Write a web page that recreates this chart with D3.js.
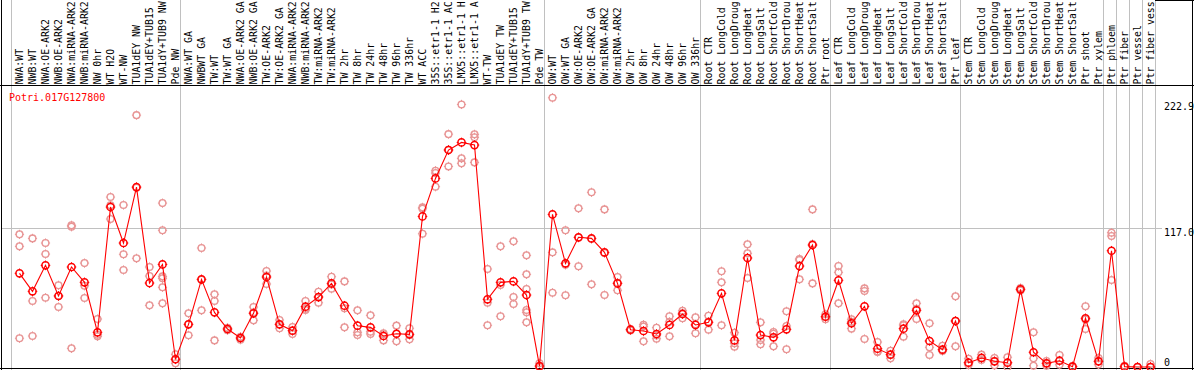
<!DOCTYPE html>
<html>
<head>
<meta charset="utf-8">
<script src="https://cdn.jsdelivr.net/npm/d3@7"></script>
<style>
  html, body { margin: 0; padding: 0; background: #fff; }
  svg { display: block; }
  text { font-family: "DejaVu Sans Mono", monospace; font-size: 10px; }
</style>
</head>
<body>
<svg id="chart"></svg>
<script>
const geneName = "Potri.017G127800";

// sample names as far as they show in the label strip
const samples = [
  "NWA:WT", "NWB:WT", "NWA:OE-ARK2", "NWB:OE-ARK2", "NWA:miRNA-ARK2", "NWB:miRNA-ARK2",
  "NW 0hr", "WT H2O", "WT-NW", "TUA1dEY NW", "TUA1dEY+TUB15", "TUA1dY+TUB9 NW", "Pde NW",
  "NWA:WT GA", "NWBWT GA", "TW:WT", "TW:WT GA", "NWA:OE-ARK2 GA", "NWB:OE-ARK2 GA",
  "TW:OE-ARK2", "TW:OE-ARK2 GA", "NWA:miRNA-ARK2", "NWB:miRNA-ARK2", "TW:miRNA-ARK2",
  "TW:miRNA-ARK2", "TW 2hr", "TW 8hr", "TW 24hr", "TW 48hr", "TW 96hr", "TW 336hr",
  "WT ACC", "35S::etr1-1 H2", "35S::etr1-1 AC", "LMX5::etr1-1 H", "LMX5::etr1-1 A",
  "WT-TW", "TUA1dEY TW", "TUA1dEY+TUB15", "TUA1dY+TUB9 TW", "Pde TW",
  "OW:WT", "OW:WT GA", "OW:OE-ARK2", "OW:OE-ARK2 GA", "OW:miRNA-ARK2", "OW:miRNA-ARK2",
  "OW 2hr", "OW 8hr", "OW 24hr", "OW 48hr", "OW 96hr", "OW 336hr",
  "Root CTR", "Root LongCold", "Root LongDroug", "Root LongHeat", "Root LongSalt",
  "Root ShortCold", "Root ShortDrou", "Root ShortHeat", "Root ShortSalt", "Ptr root",
  "Leaf CTR", "Leaf LongCold", "Leaf LongDroug", "Leaf LongHeat", "Leaf LongSalt",
  "Leaf ShortCold", "Leaf ShortDrou", "Leaf ShortHeat", "Leaf ShortSalt", "Ptr leaf",
  "Stem CTR", "Stem LongCold", "Stem LongDroug", "Stem LongHeat", "Stem LongSalt",
  "Stem ShortCold", "Stem ShortDrou", "Stem ShortHeat", "Stem ShortSalt", "Ptr shoot",
  "Ptr xylem", "Ptr phloem", "Ptr fiber", "Ptr vessel", "Ptr fiber vess"
];

// last sample index of each block (grey separators)
const groupEnds = [12, 40, 52, 62, 72, 83, 84, 85, 86, 87];

const means = [
  78.9, 63.7, 85.6, 59.8, 84.2, 71.3, 29.2, 134.7, 104.4, 151.5, 70.7, 86.4, 6.5,
  35.9, 73.8, 46.0, 32.0, 24.4, 45.2, 75.8, 35.9, 30.6, 50.8, 58.9, 70.4, 51.6, 34.8,
  33.4, 26.1, 28.0, 27.5, 126.8, 158.8, 182.7, 189.1, 186.9, 57.0, 71.3, 72.1, 60.6, 0.8,
  128.5, 87.3, 109.2, 108.3, 96.5, 70.4, 31.4, 30.3, 27.8, 35.4, 44.6, 35.4,
  37.6, 62.0, 22.4, 91.8, 26.9, 25.0, 31.7, 85.0, 102.7, 42.3,
  73.0, 36.8, 51.1, 15.4, 10.4, 32.3, 47.7, 21.9, 14.6, 38.7,
  3.6, 7.6, 4.8, 3.6, 65.4, 12.4, 3.1, 5.3, 0.3, 41.0, 4.8,
  97.9, 0.3, 0.0, 0.0
];

const replicates = [
  [111.7, 101.6, 24.2], [108.3, 55.6, 26.1], [104.4, 95.1, 58.3], [68.8, 60.0, 50.5],
  [119.3, 118.1, 15.7], [87.5, 68.4, 58.1], [40.4, 27.2, 25.8], [143.1, 136.1, 124.6],
  [136.4, 94.9, 81.7], [212.1, 150.9, 91.5], [84.2, 76.6, 51.9],
  [138.0, 115.1, 76.3, 74.7, 67.1, 53.6], [10.7, 6.5, 3.1],
  [45.2, 36.0, 26.7], [100.2, 73.5, 47.7], [61.2, 55.6, 22.4], [33.0, 32.0, 31.0],
  [25.5, 24.4, 23.0], [50.5, 46.0, 39.3], [80.8, 77.0, 69.9], [39.6, 36.0, 32.6],
  [33.7, 30.5, 27.8], [55.6, 49.0, 48.0], [63.4, 59.0, 54.1], [76.0, 69.5, 65.9],
  [72.1, 49.4, 33.4], [47.7, 29.2, 26.9], [43.5, 29.7, 27.8], [28.4, 27.5, 22.4],
  [34.8, 28.0, 21.6], [32.6, 27.0, 23.3], [134.4, 133.3, 112.2], [165.3, 163.3, 151.8],
  [196.1, 183.0, 168.9], [221.1, 175.7, 171.5], [195.9, 193.4, 172.3], [82.5, 54.1, 35.1],
  [101.6, 69.0, 42.7], [105.8, 58.9, 53.0], [94.0, 78.0, 65.7, 48.0, 46.0, 37.6],
  [3.1, 0.5, 0.0],
  [226.7, 96.5, 62.5], [115.1, 86.0, 60.4], [133.6, 109.0, 84.8], [147.1, 108.0, 69.6],
  [132.7, 96.0, 60.6], [75.8, 71.0, 64.6], [32.0, 31.4, 30.8], [35.6, 34.0, 21.6],
  [33.1, 26.5, 23.8], [42.7, 38.0, 25.8], [47.4, 45.4, 41.0], [41.8, 36.0, 28.4],
  [43.2, 38.2, 31.4], [80.6, 71.3, 35.1], [28.9, 19.9, 17.1], [103.3, 95.7, 74.9],
  [37.6, 22.7, 19.1], [29.5, 28.0, 17.4], [46.9, 34.5, 14.9], [91.0, 90.1, 73.8],
  [132.7, 103.5, 70.4], [44.4, 42.3, 40.2],
  [85.0, 79.7, 53.6], [40.2, 38.0, 32.3], [66.2, 64.0, 23.6], [21.0, 13.0, 12.6],
  [13.7, 10.4, 7.3], [36.0, 35.1, 25.5], [53.6, 49.0, 40.4], [36.8, 16.6, 10.1],
  [17.9, 14.6, 13.5], [59.5, 39.0, 17.4],
  [7.0, 3.6, 1.7], [10.4, 7.6, 5.9], [7.6, 4.8, 1.4], [8.2, 3.6, 0.0], [66.5, 65.4, 64.5],
  [29.2, 7.3, 1.1], [5.0, 3.1, 1.0], [10.1, 5.3, 1.9], [0.8, 0.3, 0.0], [51.1, 40.0, 32.0],
  [7.6, 4.8, 2.0],
  [113.1, 110.3, 73.2], [1.0, 0.3, 0.0], [0.0, 0.0], [2.5, 0.0]
];

const yTicks = [0, 117.0, 222.9];

const width = 1194, height = 370;
const labelBottom = 85;

const svg = d3.select("#chart")
  .attr("width", width)
  .attr("height", height);

const x = d3.scaleBand()
  .domain(d3.range(samples.length))
  .range([13, 13 + 13 * samples.length])
  .padding(0);
const cx = (i) => x(i) + x.bandwidth() / 2;

const y = d3.scaleLinear()
  .domain([0, 222.9])
  .range([367, 102.3]);

// grey column separators
const seps = [-1].concat(groupEnds);
svg.append("g")
  .selectAll("line")
  .data(seps)
  .enter()
  .append("line")
  .attr("x1", (d) => Math.floor(cx(0) + 13 * d + 5) + 0.5)
  .attr("x2", (d) => Math.floor(cx(0) + 13 * d + 5) + 0.5)
  .attr("y1", 0)
  .attr("y2", height)
  .attr("stroke", "#c0c0c0");

// horizontal grid at the middle tick
svg.append("line")
  .attr("x1", 2)
  .attr("x2", 1162)
  .attr("y1", Math.round(y(117.0)) + 0.5)
  .attr("y2", Math.round(y(117.0)) + 0.5)
  .attr("stroke", "#c0c0c0");

// frame
const frame = svg.append("g").attr("stroke", "#000").attr("fill", "none");
frame.append("line").attr("x1", 1.5).attr("x2", 1.5).attr("y1", 0).attr("y2", height);
frame.append("line").attr("x1", width - 1.5).attr("x2", width - 1.5).attr("y1", 0).attr("y2", height);
frame.append("line").attr("x1", 0).attr("x2", width).attr("y1", labelBottom + 0.5).attr("y2", labelBottom + 0.5);
frame.append("line").attr("x1", 0).attr("x2", width).attr("y1", height - 1.5).attr("y2", height - 1.5);
frame.append("line").attr("x1", 1155).attr("x2", width).attr("y1", 0.5).attr("y2", 0.5);

// sample labels (vertical)
svg.append("g")
  .selectAll("text")
  .data(samples)
  .enter()
  .append("text")
  .attr("transform", (d, i) => `translate(${cx(i) + 3.6}, ${labelBottom - 0.5}) rotate(-90)`)
  .attr("fill", "#000")
  .style("font-size", "9.9px")
  .text((d) => d);

// y tick labels
svg.append("g")
  .selectAll("text")
  .data(yTicks)
  .enter()
  .append("text")
  .attr("x", 1164)
  .attr("y", (d) => (d === 0 ? 366 : y(d) + 8))
  .attr("fill", "#000")
  .text((d) => (d === 0 ? "0" : d.toFixed(1)));

// gene name
svg.append("text")
  .attr("x", 9)
  .attr("y", 101)
  .attr("fill", "#ff0000")
  .text(geneName);

// replicate points
const reps = [];
replicates.forEach((vals, i) => vals.forEach((v) => reps.push({ i, v })));

const marker = (g, color, r, sw) => {
  g.append("circle")
    .attr("r", r)
    .attr("fill", "none")
    .attr("stroke", color)
    .attr("stroke-width", sw);
  g.append("path")
    .attr("d", `M0,${-r - 1.2}V${-r + 0.6}M0,${r - 0.6}V${r + 1.2}M${-r - 1.2},0H${-r + 0.6}M${r - 0.6},0H${r + 1.2}`)
    .attr("stroke", color)
    .attr("stroke-width", 1);
};

svg.append("g")
  .selectAll("g")
  .data(reps)
  .enter()
  .append("g")
  .attr("transform", (d) => `translate(${cx(d.i)}, ${y(d.v)})`)
  .each(function () { marker(d3.select(this), "#e89595", 3.4, 1.3); });

// mean line
const line = d3.line()
  .x((d, i) => cx(i))
  .y((d) => y(d));

svg.append("path")
  .datum(means)
  .attr("d", line)
  .attr("fill", "none")
  .attr("stroke", "#ff0000")
  .attr("stroke-width", 1.1);

svg.append("g")
  .selectAll("g")
  .data(means)
  .enter()
  .append("g")
  .attr("transform", (d, i) => `translate(${cx(i)}, ${y(d)})`)
  .each(function () { marker(d3.select(this), "#ff0000", 3.6, 1.5); });
</script>
</body>
</html>
